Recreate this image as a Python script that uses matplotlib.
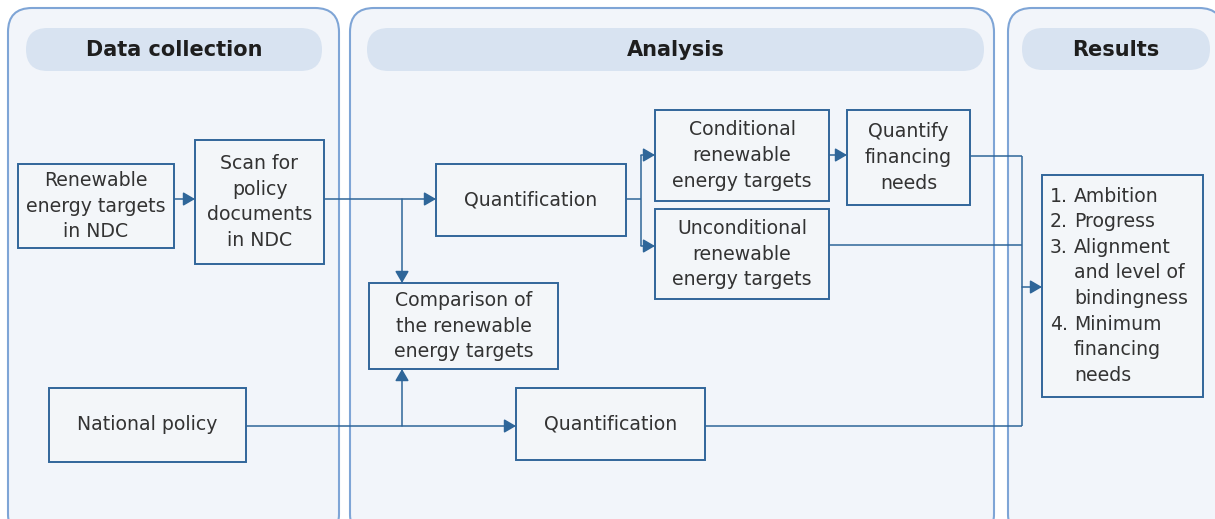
import matplotlib.pyplot as plt
from matplotlib.patches import FancyBboxPatch

# text content
headers = ["Data collection", "Analysis", "Results"]
box_labels = [
    ["Renewable", "energy targets", "in NDC"],
    ["Scan for", "policy", "documents", "in NDC"],
    ["Quantification"],
    ["Conditional", "renewable", "energy targets"],
    ["Quantify", "financing", "needs"],
    ["Unconditional", "renewable", "energy targets"],
    ["Comparison of", "the renewable", "energy targets"],
    ["National policy"],
    ["Quantification"],
]
result_nums = ["1.", "2.", "3.", "", "", "4.", "", ""]
result_lines = ["Ambition", "Progress", "Alignment", "and level of", "bindingness",
                "Minimum", "financing", "needs"]

# layout (pixel space, y down)
panels = [(8, 8, 331, 530), (350, 8, 644, 530), (1008, 8, 215, 530)]
pills = [(26, 28, 296, 43), (367, 28, 617, 43), (1022, 28, 188, 42)]
boxes = [
    (18, 164, 156, 84),
    (195, 140, 129, 124),
    (436, 164, 190, 72),
    (655, 110, 174, 91),
    (847, 110, 123, 95),
    (655, 209, 174, 90),
    (369, 283, 189, 86),
    (49, 388, 197, 74),
    (516, 388, 189, 72),
]
results_box = (1042, 175, 161, 222)

PANEL_FILL = "#f2f5fa"
PANEL_EDGE = "#7fa5d6"
PILL_FILL = "#d8e3f1"
BOX_FILL = "#f3f6f9"
BOX_EDGE = "#31669a"
LINE = "#2f6699"
TEXT = "#333333"
FONT = ["DejaVu Sans"]
FS = 13.6
LSP = 25.7

fig = plt.figure(figsize=(12.15, 5.19), dpi=100)
ax = fig.add_axes([0, 0, 1, 1])
ax.set_xlim(0, 1215)
ax.set_ylim(519, 0)
ax.axis("off")

for (x, y, w, h) in panels:
    ax.add_patch(FancyBboxPatch((x, y), w, h, boxstyle="round,pad=0,rounding_size=24",
                                fc=PANEL_FILL, ec=PANEL_EDGE, lw=1.5, zorder=1))
for (x, y, w, h), title in zip(pills, headers):
    ax.add_patch(FancyBboxPatch((x, y), w, h, boxstyle=f"round,pad=0,rounding_size={h / 2}",
                                fc=PILL_FILL, ec="none", zorder=2))
    ax.text(x + w / 2, y + h / 2 + 1, title, ha="center", va="center", fontsize=15,
            fontweight="bold", color="#1e1e1e", family=FONT, zorder=3)


def draw_box(x, y, w, h):
    ax.add_patch(plt.Rectangle((x, y), w, h, fc=BOX_FILL, ec=BOX_EDGE, lw=1.4, zorder=4))


for (x, y, w, h), lines in zip(boxes, box_labels):
    draw_box(x, y, w, h)
    cy = y + h / 2
    n = len(lines)
    for i, line in enumerate(lines):
        ty = cy + (i - (n - 1) / 2) * LSP
        ax.text(x + w / 2, ty, line, ha="center", va="center", fontsize=FS,
                color=TEXT, family=FONT, zorder=5)

x, y, w, h = results_box
draw_box(x, y, w, h)
for i, (num, line) in enumerate(zip(result_nums, result_lines)):
    ty = 196 + i * 25.6
    if num:
        ax.text(1050, ty, num, ha="left", va="center", fontsize=FS, color=TEXT,
                family=FONT, zorder=5)
    ax.text(1074, ty, line, ha="left", va="center", fontsize=FS, color=TEXT,
            family=FONT, zorder=5)


def seg(xs, ys):
    ax.plot(xs, ys, color=LINE, lw=1.1, zorder=3, solid_capstyle="butt")


def arrow(x0, y0, x1, y1):
    ax.annotate("", xy=(x1, y1), xytext=(x0, y0), zorder=3,
                arrowprops=dict(arrowstyle="-|>,head_length=0.55,head_width=0.32",
                                mutation_scale=13, color=LINE, lw=1.1,
                                shrinkA=0, shrinkB=0))


# connectors
arrow(174, 199, 195, 199)
arrow(324, 199, 436, 199)
arrow(402, 199, 402, 283)
seg([626, 641], [199, 199])
seg([641, 641], [155, 246])
arrow(641, 155, 655, 155)
arrow(641, 246, 655, 246)
arrow(829, 155, 847, 155)
seg([970, 1022], [156, 156])
seg([829, 1022], [245, 245])
arrow(246, 426, 516, 426)
arrow(402, 426, 402, 369)
seg([705, 1022], [426, 426])
seg([1022, 1022], [156, 426])
arrow(1022, 287, 1042, 287)

fig.savefig("out.png", dpi=100)
